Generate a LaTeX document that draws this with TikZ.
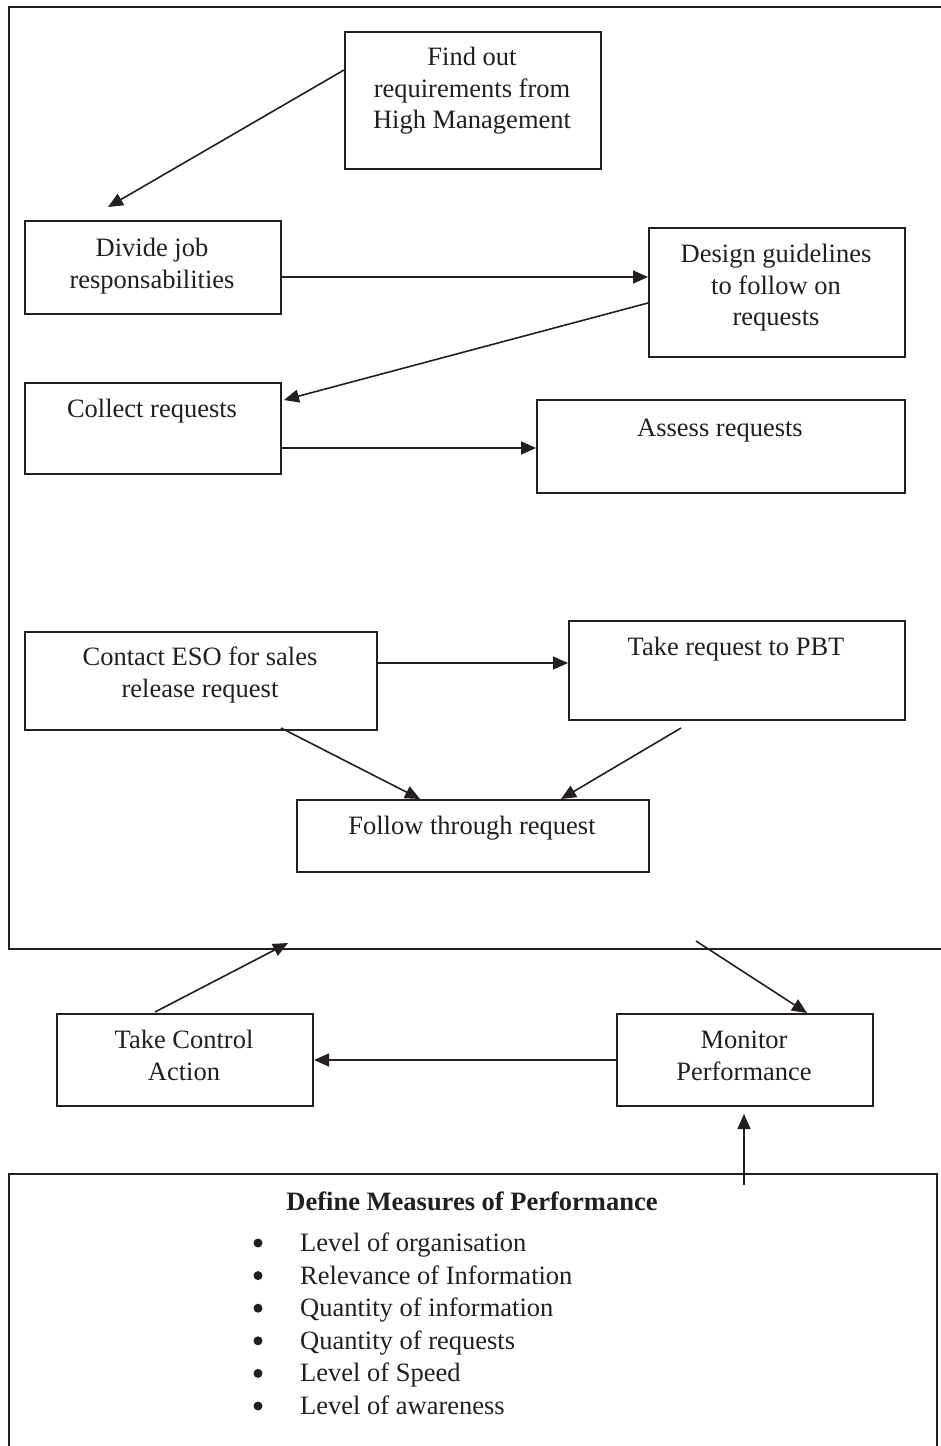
\documentclass[tikz,border=0pt]{standalone}
\usepackage{fontspec}
\setmainfont{Liberation Serif}
\usetikzlibrary{arrows.meta,calc}
\definecolor{ink}{HTML}{231F20}
\newcommand\fs{\fontsize{26.5}{31.5}\selectfont}
\newcommand\mlines[1]{\begin{tabular}[t]{@{}c@{}}#1\end{tabular}}
\begin{document}
\begin{tikzpicture}[x=1pt,y=-1pt,
  box/.style={draw=ink, line width=2pt, fill=white, inner sep=0pt, anchor=north west, rectangle},
  frame/.style={draw=ink, line width=2pt, inner sep=0pt, anchor=north west, rectangle},
  arr/.style={draw=ink, line width=1.6pt, -{Triangle[length=15pt,width=13pt]}},
  txt/.style={inner sep=0pt, anchor=base, font=\fs, text=ink},
  bul/.style={circle, fill=ink, inner sep=0pt, minimum size=9pt}]
\useasboundingbox (0,0) rectangle (941,1446);
\fill[white] (0,0) rectangle (941,1446);
% frames
\node[frame, minimum width=960pt, minimum height=942pt] (outer) at (8,6) {};
\node[box, minimum width=928pt, minimum height=300pt] (measures) at (8,1173) {};
% boxes
\node[box, minimum width=256pt, minimum height=137pt] (find) at (344,31) {};
\node[box, minimum width=256pt, minimum height=93pt] (divide) at (24,220) {};
\node[box, minimum width=256pt, minimum height=129pt] (design) at (648,227) {};
\node[box, minimum width=256pt, minimum height=91pt] (collect) at (24,382) {};
\node[box, minimum width=368pt, minimum height=93pt] (assess) at (536,399) {};
\node[box, minimum width=352pt, minimum height=98pt] (contact) at (24,631) {};
\node[box, minimum width=336pt, minimum height=99pt] (takereq) at (568,620) {};
\node[box, minimum width=352pt, minimum height=72pt] (follow) at (296,799) {};
\node[box, minimum width=256pt, minimum height=92pt] (control) at (56,1013) {};
\node[box, minimum width=256pt, minimum height=92pt] (monitor) at (616,1013) {};
% texts
\node[txt] (find-t) at (472,65.5) {\mlines{Find out\\requirements from\\High Management}};
\node[txt] (divide-t) at (152,256.5) {\mlines{Divide job\\responsabilities}};
\node[txt] (design-t) at (776,262.5) {\mlines{Design guidelines\\to follow on\\requests}};
\node[txt] (collect-t) at (152,417.5) {Collect requests};
\node[txt] (assess-t) at (720,436.5) {Assess requests};
\node[txt] (contact-t) at (200,665.5) {\mlines{Contact ESO for sales\\release request}};
\node[txt] (takereq-t) at (736,655.5) {Take request to PBT};
\node[txt] (follow-t) at (472,834.5) {Follow through request};
\node[txt] (control-t) at (184,1048.5) {\mlines{Take Control\\Action}};
\node[txt] (monitor-t) at (744,1048.5) {\mlines{Monitor\\Performance}};
\node[txt] (measures-t) at (472,1210.5) {\textbf{Define Measures of Performance}};
\node[txt, anchor=base west] (list) at (300,1251.5) {\fontsize{26.5}{32.6}\selectfont
  \begin{tabular}[t]{@{}l@{}}
  Level of organisation\\
  Relevance of Information\\
  Quantity of information\\
  Quantity of requests\\
  Level of Speed\\
  Level of awareness
  \end{tabular}};
\node[bul] (b1) at (258,1243) {};
\node[bul] (b2) at (258,1275.6) {};
\node[bul] (b3) at (258,1308.2) {};
\node[bul] (b4) at (258,1340.8) {};
\node[bul] (b5) at (258,1373.4) {};
\node[bul] (b6) at (258,1406) {};
% connectors
\draw[arr] ($(find.north west)+(0,39)$) -- ($(divide.north west)+(84,-13)$);
\draw[arr] ($(divide.north east)+(0,57)$) -- ($(design.north west)+(0,50)$);
\draw[arr] ($(design.north west)+(0,76)$) -- ($(collect.north east)+(2,18)$);
\draw[arr] ($(collect.north east)+(0,66)$) -- ($(assess.north west)+(0,49)$);
\draw[arr] ($(contact.north east)+(0,32)$) -- ($(takereq.north west)+(0,43)$);
\draw[arr] ($(contact.south west)+(257,-3)$) -- ($(follow.north west)+(124,0)$);
\draw[arr] ($(takereq.south west)+(113,7)$) -- ($(follow.north west)+(265,0)$);
\draw[arr] ($(control.north west)+(99,-1)$) -- ($(outer.south west)+(280,-7)$);
\draw[arr] ($(outer.south west)+(688,-9)$) -- ($(monitor.north west)+(191,0)$);
\draw[arr] (monitor.west) -- (control.east);
\draw[arr] ($(measures.north west)+(736,12)$) -- ($(monitor.south west)+(128,7)$);
\end{tikzpicture}
\end{document}
